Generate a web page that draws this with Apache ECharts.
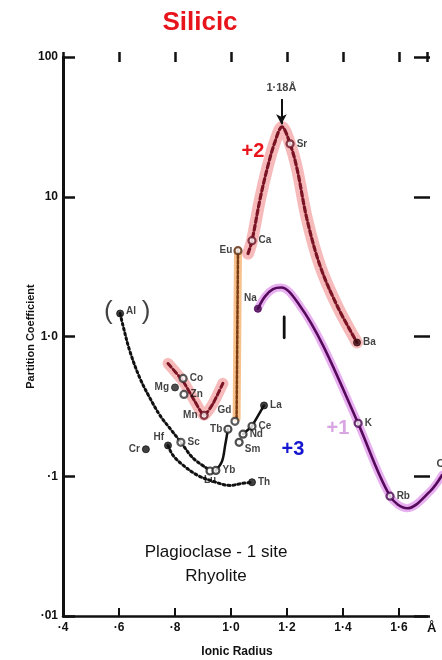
<!DOCTYPE html>
<html><head><meta charset="utf-8">
<script src="https://cdn.jsdelivr.net/npm/echarts@6/dist/echarts.min.js"></script>
<style>html,body{margin:0;padding:0;background:#fff}#c{width:442px;height:660px}</style>
</head><body><div id="c"></div>
<script>
// ---------- data ----------
const xTickValues = [0.4, 0.6, 0.8, 1.0, 1.2, 1.4, 1.6];
const xTickLabels = ['·4', '·6', '·8', '1·0', '1·2', '1·4', '1·6'];
const yTickValues = [0.01, 0.1, 1, 10, 100];
const yTickLabels = ['·01', '·1', '1·0', '10', '100'];

const elements  = ['Al','Cr','Hf','Sc','Mg','Co','Zn','Mn','Lu','Yb','Tb','Gd','Eu','Sm','Nd','Ce','La','Th','Na','Ca','Sr','Ba','K','Rb'];
const radius    = [0.604,0.696,0.775,0.821,0.800,0.829,0.832,0.904,0.925,0.946,0.989,1.014,1.025,1.029,1.043,1.075,1.118,1.075,1.096,1.075,1.211,1.450,1.454,1.568];
const partition = [1.46,0.156,0.166,0.175,0.432,0.501,0.385,0.273,0.109,0.110,0.217,0.247,4.11,0.175,0.200,0.228,0.321,0.0906,1.58,4.85,23.9,0.906,0.239,0.072];

// fitted curves [ionic radius, partition coefficient]
const divalentCurve = [[1.061,3.92],[1.075,4.85],[1.104,9.68],[1.132,16.7],[1.157,24.7],[1.182,31.6],[1.211,23.9],[1.236,15.8],[1.271,6.96],[1.318,3.21],[1.379,1.66],[1.450,0.906]];
const monovalentCurve = [[1.096,1.58],[1.121,1.93],[1.150,2.18],[1.179,2.24],[1.246,1.66],[1.329,0.86],[1.454,0.239],[1.568,0.072],[1.629,0.059],[1.711,0.078],[1.754,0.102]];
const transitionCurve = [[0.775,0.641],[0.829,0.477],[0.871,0.343],[0.904,0.273],[0.936,0.332],[0.971,0.462]];
const europiumLine = [[1.025,4.11],[1.020,0.26]];
const heavyReeCurve = [[0.989,0.217],[0.979,0.166],[0.968,0.128],[0.946,0.110]];
const lightReeCurve = [[1.118,0.321],[1.075,0.228],[1.043,0.200]];
const dottedCurveA = [[0.604,1.46],[0.614,1.2],[0.639,0.782],[0.675,0.501],[0.711,0.361],[0.746,0.273],[0.782,0.22],[0.821,0.175],[0.864,0.135],[0.914,0.114]];
const dottedCurveB = [[0.775,0.166],[0.793,0.141],[0.829,0.12],[0.879,0.102],[0.936,0.092],[0.996,0.086],[1.043,0.089],[1.075,0.0906]];
const radiusBar = [[1.19,0.98],[1.19,1.38]];
const optimumRadius = 1.18;
const optimumArrow = [50, 33];
const optimumLabelK = 60;
const edgeLabel = ['Cs', 1.732, 0.122];

// ---------- styles ----------
const labelPos = ['right','left','left','right','left','right','right','left','bottom','right','left','left','left','right','right','right','right','right','left','right','right','right','right','right'];
const labelOff = {Hf:[2,-8], Gd:[3,-11], Sm:[-1,7], Na:[5,-10], Lu:[0,-2], Tb:[1,0], Eu:[1,0], Al:[0,-2]};
const markColor = {Al:'#111',Cr:'#111',Hf:'#111',Sc:'#333',Mg:'#222',Co:'#333',Zn:'#333',Mn:'#6a1020',Lu:'#222',Yb:'#222',Tb:'#222',Gd:'#333',Eu:'#5a2a10',Sm:'#222',Nd:'#222',Ce:'#222',La:'#111',Th:'#111',Na:'#4a0a52',Ca:'#6a1020',Sr:'#6a1020',Ba:'#3a0a10',K:'#4a0a52',Rb:'#4a0a52'};
const hollow = {Sc:1,Co:1,Zn:1,Mn:1,Lu:1,Yb:1,Tb:1,Sm:1,Nd:1,Ce:1,Gd:1,K:1,Rb:1,Sr:1,Ca:1,Eu:1};

const fontFam = '"Liberation Sans", Arial, sans-serif';

const points = elements.map((el, i) => ({
  name: el,
  value: [radius[i], partition[i]],
  symbolSize: 7,
  itemStyle: { color: hollow[el] ? '#fff' : markColor[el], borderColor: markColor[el], borderWidth: hollow[el] ? 2.2 : 1 },
  label: {
    show: true, position: labelPos[i], distance: 2, offset: labelOff[el] || [0,0],
    formatter: el === 'Al' ? '{a|Al}  {p|)}' : el,
    rich: { a: { fontSize: 10, fontWeight: 'bold', color: '#111' }, p: { fontSize: 26, fontWeight: 'normal', color: '#111' } }
  }
}));

const lineBase = (data, color, width, type, extra) => Object.assign({
  type: 'line', data: data, smooth: 0.35, symbol: 'none', silent: true,
  lineStyle: { color: color, width: width, type: type || 'solid', cap: 'round' }
}, extra || {});

const ghost = { symbol: 'circle', symbolSize: 1, itemStyle: { color: 'rgba(0,0,0,0)' } };

const option = {
  backgroundColor: '#fff',
  animation: false,
  textStyle: { fontFamily: fontFam },
  title: [
    { text: 'Silicic', left: 195, top: 5, textAlign: 'center', textStyle: { color: '#e8141c', fontSize: 26, fontWeight: 'bold', fontFamily: fontFam } },
    { text: '+2', left: 248, top: 136, textAlign: 'center', textStyle: { color: '#e8141c', fontSize: 20, fontWeight: 'bold', fontFamily: fontFam } },
    { text: '+1', left: 333, top: 413, textAlign: 'center', textStyle: { color: '#d8a4e2', fontSize: 20, fontWeight: 'bold', fontFamily: fontFam } },
    { text: '+3', left: 288, top: 434, textAlign: 'center', textStyle: { color: '#1616d0', fontSize: 20, fontWeight: 'bold', fontFamily: fontFam } },
    { text: 'Plagioclase - 1 site', left: 211, top: 539, textAlign: 'center', textStyle: { color: '#111', fontSize: 17, fontWeight: 'normal', fontFamily: fontFam } },
    { text: 'Rhyolite', left: 211, top: 563, textAlign: 'center', textStyle: { color: '#111', fontSize: 17, fontWeight: 'normal', fontFamily: fontFam } },
    { text: 'Ionic Radius', left: 232, top: 641, textAlign: 'center', textStyle: { color: '#111', fontSize: 12, fontWeight: 'bold', fontFamily: fontFam } }
  ],
  grid: [
    { left: 63, right: 15, top: 57, bottom: 44 },
    { left: 63, right: 0, top: 57, bottom: 44 }
  ],
  xAxis: [
    {
      type: 'value', min: 0.4, max: 1.7, interval: 0.2, position: 'bottom', gridIndex: 0,
      axisLine: { lineStyle: { color: '#111', width: 2.5 } },
      axisTick: { inside: true, length: 8, lineStyle: { color: '#111', width: 2 } },
      splitLine: { show: false },
      axisLabel: {
        color: '#111', fontWeight: 'bold', fontSize: 12, margin: 6, showMaxLabel: false,
        formatter: v => { const k = xTickValues.findIndex(t => Math.abs(t - v) < 1e-6); return k >= 0 ? xTickLabels[k] : ''; }
      },
      name: 'Å', nameLocation: 'end', nameGap: 0,
      nameTextStyle: { color: '#111', fontWeight: 'bold', fontSize: 13, verticalAlign: 'top', padding: [6, 0, 0, 0] }
    },
    {
      type: 'value', min: 0.4, max: 1.7, interval: 0.2, position: 'top', offset: 5, gridIndex: 0,
      axisLine: { show: false },
      axisTick: { inside: true, length: 10, lineStyle: { color: '#111', width: 2.5 } },
      axisLabel: { show: false }, splitLine: { show: false }
    },
    { type: 'value', min: 0.4, max: 1.7536, gridIndex: 1, show: false }
  ],
  yAxis: [
    {
      type: 'log', logBase: 10, min: 0.01, max: 100, gridIndex: 0,
      axisLine: { lineStyle: { color: '#111', width: 3 } },
      axisTick: { inside: true, length: 12, lineStyle: { color: '#111', width: 2.5 } },
      minorTick: { show: false }, splitLine: { show: false },
      axisLabel: {
        color: '#111', fontWeight: 'bold', fontSize: 12, margin: 5,
        formatter: v => { const k = yTickValues.findIndex(t => Math.abs(Math.log10(t) - Math.log10(v)) < 1e-6); return k >= 0 ? yTickLabels[k] : ''; }
      },
      name: 'Partition Coefficient', nameLocation: 'middle', nameGap: 27, nameMoveOverlap: false,
      nameTextStyle: { color: '#111', fontWeight: 'bold', fontSize: 11 }
    },
    {
      type: 'log', logBase: 10, min: 0.01, max: 100, position: 'right', offset: 3, gridIndex: 0,
      axisLine: { show: false },
      axisTick: { inside: true, length: 16, lineStyle: { color: '#111', width: 2.5 } },
      axisLabel: { show: false }, splitLine: { show: false }, minorTick: { show: false }
    },
    { type: 'log', logBase: 10, min: 0.01, max: 100, gridIndex: 1, show: false }
  ],
  series: [
    lineBase(divalentCurve, 'rgba(240,140,140,0.6)', 12, 'solid', { z: 1 }),
    lineBase(transitionCurve, 'rgba(240,140,140,0.6)', 11, 'solid', { z: 1, smooth: 0.2 }),
    lineBase(europiumLine, 'rgba(246,182,120,0.85)', 8, 'solid', { z: 1, smooth: false }),
    lineBase(monovalentCurve, 'rgba(226,150,236,0.75)', 8, 'solid', { z: 1, xAxisIndex: 2, yAxisIndex: 2 }),
    lineBase(divalentCurve, '#7a1424', 3.2, [5, 3], { z: 3 }),
    lineBase(transitionCurve, '#7a1424', 3, [5, 3], { z: 3, smooth: 0.2 }),
    lineBase(europiumLine, '#7a3a12', 2.5, [3, 2], { z: 3, smooth: false }),
    lineBase(monovalentCurve, '#560a5c', 2.6, 'solid', { z: 3, xAxisIndex: 2, yAxisIndex: 2 }),
    lineBase(heavyReeCurve, '#111', 2.5, 'solid', { z: 3 }),
    lineBase(lightReeCurve, '#111', 2.5, 'solid', { z: 3, smooth: false }),
    lineBase(dottedCurveA, '#111', 3, [2, 3], { z: 3 }),
    lineBase(dottedCurveB, '#111', 3, [2, 3], { z: 3 }),
    lineBase(radiusBar, '#111', 2.8, 'solid', { z: 3, smooth: false }),
    {
      type: 'scatter', silent: true, z: 5, clip: false,
      data: points,
      label: { color: '#111', fontSize: 10, fontWeight: 'bold', fontFamily: fontFam }
    },
    Object.assign({
      type: 'scatter', silent: true, z: 5, clip: false,
      data: [
        { value: [radius[0], partition[0]], label: { show: true, position: 'left', distance: 7, offset: [0, -2], formatter: '(', fontSize: 26, fontWeight: 'normal', color: '#111' } },
        { value: [optimumRadius, optimumLabelK], label: { show: true, position: 'inside', formatter: '1·18Å', fontSize: 11, fontWeight: 'bold', color: '#111' } }
      ],
      markLine: {
        silent: true, symbol: ['none', 'arrow'], symbolSize: [8, 10],
        lineStyle: { color: '#111', width: 2, type: 'solid' },
        label: { show: false },
        data: [[{ coord: [optimumRadius, optimumArrow[0]] }, { coord: [optimumRadius, optimumArrow[1]] }]]
      }
    }, ghost),
    Object.assign({
      type: 'scatter', silent: true, z: 5, clip: false, xAxisIndex: 2, yAxisIndex: 2,
      data: [
        { value: [edgeLabel[1], edgeLabel[2]], label: { show: true, position: 'right', distance: 0, formatter: edgeLabel[0], fontSize: 11, fontWeight: 'bold', color: '#111' } }
      ]
    }, ghost)
  ]
};

const chart = echarts.init(document.getElementById('c'), null, { renderer: 'canvas' });
chart.setOption(option);
</script>
</body></html>
